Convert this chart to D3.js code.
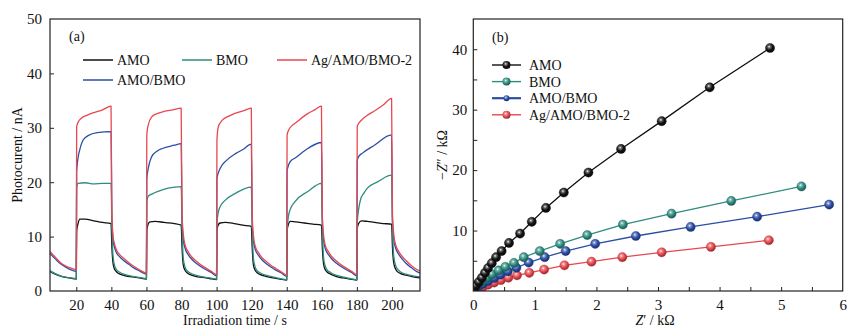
<!DOCTYPE html>
<html><head><meta charset="utf-8">
<script src="https://cdn.jsdelivr.net/npm/d3@7"></script>
<style>
html,body{margin:0;padding:0;background:#fff;}
svg text{font-family:"Liberation Serif","DejaVu Serif",serif;fill:#111;}
</style></head>
<body><svg id="c" width="862" height="332"></svg>
<script>
// ---------- Panel (a): photocurrent vs time ----------
const seriesA = ["AMO", "BMO", "Ag/AMO/BMO-2", "AMO/BMO"];
const xTicksA = [20, 40, 60, 80, 100, 120, 140, 160, 180, 200];
const yTicksA = [0, 10, 20, 30, 40, 50];

const photoAMO = [
 [5,3.6],[8,3.1],[11,2.75],[14,2.5],[17,2.35],[20,2.2],
 [20.2,11.0],[21,12.4],[22,13.2],[25,13.2],[30,12.9],[35,12.6],[39.8,12.4],
 [40.3,8],[41,5.0],[42,3.9],[43,3.5],[45,3.1],[48,2.8],[52,2.6],[56,2.4],[60,2.2],
 [60.2,11.2],[61,12.3],[62,12.7],[65,12.8],[70,12.6],[76,12.4],[79.8,12.1],
 [80.3,8],[81,4.8],[82,3.8],[83,3.4],[85,3.0],[88,2.7],[92,2.5],[96,2.3],[100,2.1],
 [100.2,11.2],[101,12.2],[102,12.5],[105,12.6],[110,12.4],[115,12.1],[119.8,11.9],
 [120.3,8],[121,4.8],[122,3.8],[123,3.4],[125,3.0],[128,2.7],[132,2.4],[136,2.2],[140,2.0],
 [140.2,11.0],[141,12.3],[142,12.8],[145,12.7],[150,12.5],[155,12.3],[159.8,12.1],
 [160.3,8],[161,5.0],[162,3.9],[163,3.5],[165,3.1],[168,2.7],[172,2.4],[176,2.2],[180,2.0],
 [180.2,11.4],[181,12.4],[182.6,12.9],[186,12.8],[190,12.6],[195,12.4],[199.8,12.3],
 [200.3,8],[201,5.2],[202,4.1],[203,3.6],[205,3.2],[208,2.9],[212,2.6],[216,2.4]
];
const photoBMO = [
 [5,3.7],[8,3.2],[11,2.8],[14,2.55],[17,2.4],[20,2.3],
 [20.2,19.0],[21,19.8],[25,19.9],[30,19.7],[35,19.8],[39.8,19.8],
 [40.3,12],[41,6.2],[42,4.5],[43,3.9],[45,3.4],[48,3.0],[52,2.7],[56,2.5],[60,2.3],
 [60.2,16.4],[61,17.4],[63,17.8],[69,18.6],[76,19.1],[79.8,19.2],
 [80.3,12],[81,6.0],[82,4.4],[83,3.8],[85,3.3],[88,2.9],[92,2.6],[96,2.4],[100,2.2],
 [100.2,12.4],[101,14.5],[102,15.5],[105,16.7],[111,18.0],[119.8,19.1],
 [120.3,12],[121,6.0],[122,4.4],[123,3.8],[125,3.3],[128,2.9],[132,2.6],[136,2.3],[140,2.1],
 [140.2,11.0],[141,13.8],[142,15.0],[144.6,16.4],[152,18.3],[159.8,19.8],
 [160.3,12],[161,6.2],[162,4.5],[163,3.9],[165,3.4],[168,2.9],[172,2.6],[176,2.3],[180,2.1],
 [180.2,12.4],[181,15.0],[182,16.7],[184,18.0],[186,18.9],[192,20.1],[199.8,21.3],
 [200.3,12],[201,6.5],[202,4.8],[203,4.1],[205,3.5],[208,3.1],[212,2.8],[216,2.6]
];
const photoAMOBMO = [
 [5,6.9],[8,5.9],[11,5.0],[14,4.4],[17,3.9],[20,3.6],
 [20.2,22.0],[21,24.5],[22,26.0],[24,27.8],[27,28.6],[32,29.1],[39.8,29.3],
 [40.3,13],[41,9.3],[42,7.8],[43,7.0],[45,6.2],[47,5.6],[50,4.9],[53,4.2],[56,3.7],[60,3.1],
 [60.2,20.5],[61,22.5],[63,24.7],[66,25.7],[69,26.2],[76,26.8],[79.8,27.1],
 [80.3,13],[81,9.5],[82,7.9],[84,6.6],[86,5.8],[88,5.2],[91,4.5],[94,3.9],[97,3.4],[100,2.8],
 [100.2,20.7],[102,22.5],[106,24.1],[111,25.3],[115,26.0],[119.8,27.0],
 [120.3,13],[121,9.3],[122,7.7],[124,6.5],[126,5.7],[128,5.1],[131,4.4],[134,3.8],[137,3.3],[140,2.7],
 [140.2,22.2],[142,23.8],[145,24.5],[152,26.2],[159.8,27.3],
 [160.3,13],[161,9.4],[162,7.8],[164,6.6],[166,5.8],[168,5.2],[171,4.5],[174,3.9],[177,3.4],[180,2.8],
 [180.2,24.0],[181,24.7],[183,25.3],[190,26.8],[199.8,28.7],
 [200.3,13],[201,9.6],[202,8.0],[204,6.7],[206,5.8],[208,5.1],[211,4.3],[214,3.6],[216,3.3]
];
const photoAg = [
 [5,7.3],[8,6.2],[11,5.2],[14,4.6],[17,4.2],[20,3.9],
 [20.2,30.2],[21,31.0],[23,31.8],[26,32.3],[30,32.8],[35,33.3],[39.8,34.0],
 [40.3,14],[41,10],[42,8.4],[43,7.5],[45,6.6],[47,6.0],[50,5.2],[53,4.5],[56,3.9],[60,3.3],
 [60.2,28.7],[61,30.5],[63,32.0],[66,32.6],[70,33.0],[75,33.3],[79.8,33.6],
 [80.3,14],[81,10.5],[82,8.5],[84,7.1],[86,6.2],[88,5.6],[91,4.8],[94,4.2],[97,3.6],[100,3.0],
 [100.2,27.8],[101,30.2],[103,31.3],[106,32.0],[110,32.6],[115,33.1],[119.8,33.6],
 [120.3,14],[121,10.2],[122,8.3],[124,7.0],[126,6.1],[128,5.5],[131,4.7],[134,4.1],[137,3.5],[140,2.9],
 [140.2,28.7],[141,29.5],[143,30.4],[145,30.9],[152,32.6],[156,33.3],[159.8,34.0],
 [160.3,14],[161,10.3],[162,8.4],[164,7.1],[166,6.2],[168,5.6],[171,4.8],[174,4.2],[177,3.6],[180,3.0],
 [180.2,30.2],[181,30.8],[182.6,31.4],[186,32.3],[190,33.1],[195,34.2],[199.8,35.4],
 [200.3,14],[201,10.5],[202,8.6],[204,7.2],[206,6.3],[208,5.6],[211,4.7],[214,4.0],[216,3.7]
];

// ---------- Panel (b): Nyquist plot ----------
const seriesB = ["AMO", "BMO", "AMO/BMO", "Ag/AMO/BMO-2"];
const xTicksB = [0, 1, 2, 3, 4, 5, 6];
const yTicksB = [10, 20, 30, 40];
const nyqAMO = [[0,0],[0.01,0.3],[0.045,0.9],[0.09,1.5],[0.14,2.2],[0.19,3.0],[0.24,3.8],[0.30,4.6],[0.37,5.6],[0.46,6.6],[0.58,7.95],[0.76,9.5],[0.95,11.45],[1.18,13.75],[1.47,16.3],[1.87,19.6],[2.40,23.5],[3.06,28.1],[3.84,33.7],[4.82,40.2]];
const nyqBMO = [[0,0],[0.01,0.3],[0.03,0.8],[0.08,1.2],[0.14,1.65],[0.22,2.2],[0.30,2.75],[0.41,3.4],[0.52,4.0],[0.66,4.65],[0.82,5.6],[1.08,6.6],[1.41,7.8],[1.85,9.25],[2.43,11.0],[3.22,12.8],[4.19,14.9],[5.33,17.3]];
const nyqAMOBMO = [[0,0],[0.04,0.6],[0.10,0.9],[0.16,1.2],[0.24,1.65],[0.34,2.15],[0.44,2.7],[0.56,3.25],[0.70,3.85],[0.90,4.7],[1.16,5.6],[1.50,6.6],[1.98,7.8],[2.64,9.1],[3.53,10.6],[4.61,12.3],[5.78,14.3]];
const nyqAg = [[0,0],[0.02,0.1],[0.08,0.45],[0.16,0.7],[0.24,1.05],[0.34,1.4],[0.45,1.8],[0.57,2.2],[0.71,2.6],[0.91,3.0],[1.15,3.55],[1.48,4.25],[1.92,4.85],[2.42,5.6],[3.06,6.4],[3.86,7.3],[4.80,8.4]];

const colors = {"AMO":"#111111","BMO":"#2f8c80","AMO/BMO":"#2a4ea6","Ag/AMO/BMO-2":"#e8474f"};

const svg = d3.select("#c");
const defs = svg.append("defs");
Object.entries(colors).forEach(([k,c],i)=>{
  const g = defs.append("radialGradient").attr("id","g"+i).attr("cx","40%").attr("cy","36%").attr("r","62%");
  g.append("stop").attr("offset","0%").attr("stop-color","#ffffff");
  g.append("stop").attr("offset","22%").attr("stop-color",d3.interpolateRgb(c,"#fff")(0.4));
  g.append("stop").attr("offset","60%").attr("stop-color",c);
  g.append("stop").attr("offset","100%").attr("stop-color",d3.color(c).darker(1.3));
});
const gradId = k => "url(#g"+Object.keys(colors).indexOf(k)+")";

// ---- Panel (a)
const xa = d3.scaleLinear().domain([5,216]).range([50,420]);
const ya = d3.scaleLinear().domain([0,50]).range([291,19]);
const pa = svg.append("g");
const lineA = d3.line().x(d=>xa(d[0])).y(d=>ya(d[1])).curve(d3.curveMonotoneX);
const dataA = [["AMO",photoAMO],["AMO/BMO",photoAMOBMO],["BMO",photoBMO],["Ag/AMO/BMO-2",photoAg]];
dataA.forEach(([k,d])=>{
  pa.append("path").datum(d).attr("d",lineA).attr("fill","none")
    .attr("stroke",colors[k]).attr("stroke-width",1.3).attr("stroke-linejoin","round");
});
pa.append("rect").attr("x",50).attr("y",19).attr("width",370).attr("height",272)
  .attr("fill","none").attr("stroke","#222").attr("stroke-width",1.2);
const axA = pa.append("g").attr("transform","translate(0,291)")
  .call(d3.axisBottom(xa).tickValues(xTicksA).tickSize(-4).tickPadding(8));
const ayA = pa.append("g").attr("transform","translate(50,0)")
  .call(d3.axisLeft(ya).tickValues(yTicksA).tickSize(-4).tickPadding(8));
[axA,ayA].forEach(a=>{a.select(".domain").remove();
  a.selectAll("line").attr("stroke","#222");
  a.selectAll("text").attr("font-size",15).attr("font-family","Liberation Serif").attr("fill","#111");});
ayA.selectAll(".tick line").filter(d=>d===0||d===50).remove();
pa.append("text").attr("x",235).attr("y",325).attr("text-anchor","middle").attr("font-size",14).text("Irradiation time / s");
pa.append("text").attr("transform","translate(22,155) rotate(-90)").attr("text-anchor","middle").attr("font-size",14).text("Photocurent / nA");
pa.append("text").attr("x",69).attr("y",41).attr("font-size",14).text("(a)");
const legA = [["AMO",83,60],["BMO",182,60],["Ag/AMO/BMO-2",277,60],["AMO/BMO",83,80]];
legA.forEach(([k,x,y])=>{
  pa.append("line").attr("x1",x).attr("x2",x+30).attr("y1",y).attr("y2",y).attr("stroke",colors[k]).attr("stroke-width",1.5);
  pa.append("text").attr("x",x+34).attr("y",y+5).attr("font-size",14).text(k);
});

// ---- Panel (b)
const xb = d3.scaleLinear().domain([0,6]).range([473.3,842.7]);
const yb = d3.scaleLinear().domain([0,45]).range([291,19]);
const pb = svg.append("g");
const lineB = d3.line().x(d=>xb(d[0])).y(d=>yb(d[1]));
const dataB = [["AMO",nyqAMO],["BMO",nyqBMO],["AMO/BMO",nyqAMOBMO],["Ag/AMO/BMO-2",nyqAg]];
const clip = defs.append("clipPath").attr("id","clipb");
clip.append("rect").attr("x",473.3).attr("y",19).attr("width",369.4).attr("height",272);
const inner = pb.append("g").attr("clip-path","url(#clipb)");
dataB.slice().reverse().forEach(([k,d])=>{
  inner.append("path").datum(d).attr("d",lineB).attr("fill","none").attr("stroke",colors[k]).attr("stroke-width",1.3);
});
dataB.slice().reverse().forEach(([k,d])=>{
  inner.selectAll(null).data(d.filter(p=>p[0]>0)).enter().append("circle")
    .attr("cx",p=>xb(p[0])).attr("cy",p=>yb(p[1])).attr("r",4.6)
    .attr("fill",gradId(k)).attr("stroke",d3.color(colors[k]).darker(0.8)).attr("stroke-width",0.4);
});
pb.append("rect").attr("x",473.3).attr("y",19).attr("width",369.4).attr("height",272)
  .attr("fill","none").attr("stroke","#222").attr("stroke-width",1.2);
const axB = pb.append("g").attr("transform","translate(0,291)")
  .call(d3.axisBottom(xb).tickValues(d3.range(0,6.01,0.5)).tickSize(-4).tickPadding(8)
  .tickFormat(d=>xTicksB.includes(d)?d3.format("d")(d):""));
const ayB = pb.append("g").attr("transform","translate(473.3,0)")
  .call(d3.axisLeft(yb).tickValues(d3.range(5,45,5)).tickSize(-4).tickPadding(6)
  .tickFormat(d=>yTicksB.includes(d)?d:""));
[axB,ayB].forEach(a=>{a.select(".domain").remove();
  a.selectAll("line").attr("stroke","#222");
  a.selectAll("text").attr("font-size",15).attr("font-family","Liberation Serif").attr("fill","#111");});
axB.selectAll(".tick line").filter(d=>d===0||d===6).remove();
const xt = pb.append("text").attr("x",655).attr("y",325).attr("text-anchor","middle").attr("font-size",14);
xt.append("tspan").attr("font-style","italic").text("Z");
xt.append("tspan").text("′ / kΩ");
const yt = pb.append("text").attr("transform","translate(447,155) rotate(-90)").attr("text-anchor","middle").attr("font-size",14);
yt.append("tspan").text("−");
yt.append("tspan").attr("font-style","italic").text("Z");
yt.append("tspan").text("″ / kΩ");
pb.append("text").attr("x",492).attr("y",42).attr("font-size",14).text("(b)");
seriesB.forEach((k,i)=>{
  const y = 65 + i*16.6;
  pb.append("line").attr("x1",492).attr("x2",521).attr("y1",y).attr("y2",y).attr("stroke",colors[k]).attr("stroke-width",k==="AMO/BMO"?2.2:1.4);
  pb.append("circle").attr("cx",506.5).attr("cy",y).attr("r",k==="AMO/BMO"?3:4).attr("fill",gradId(k));
  pb.append("text").attr("x",529).attr("y",y+5).attr("font-size",14).text(k);
});
</script></body></html>
